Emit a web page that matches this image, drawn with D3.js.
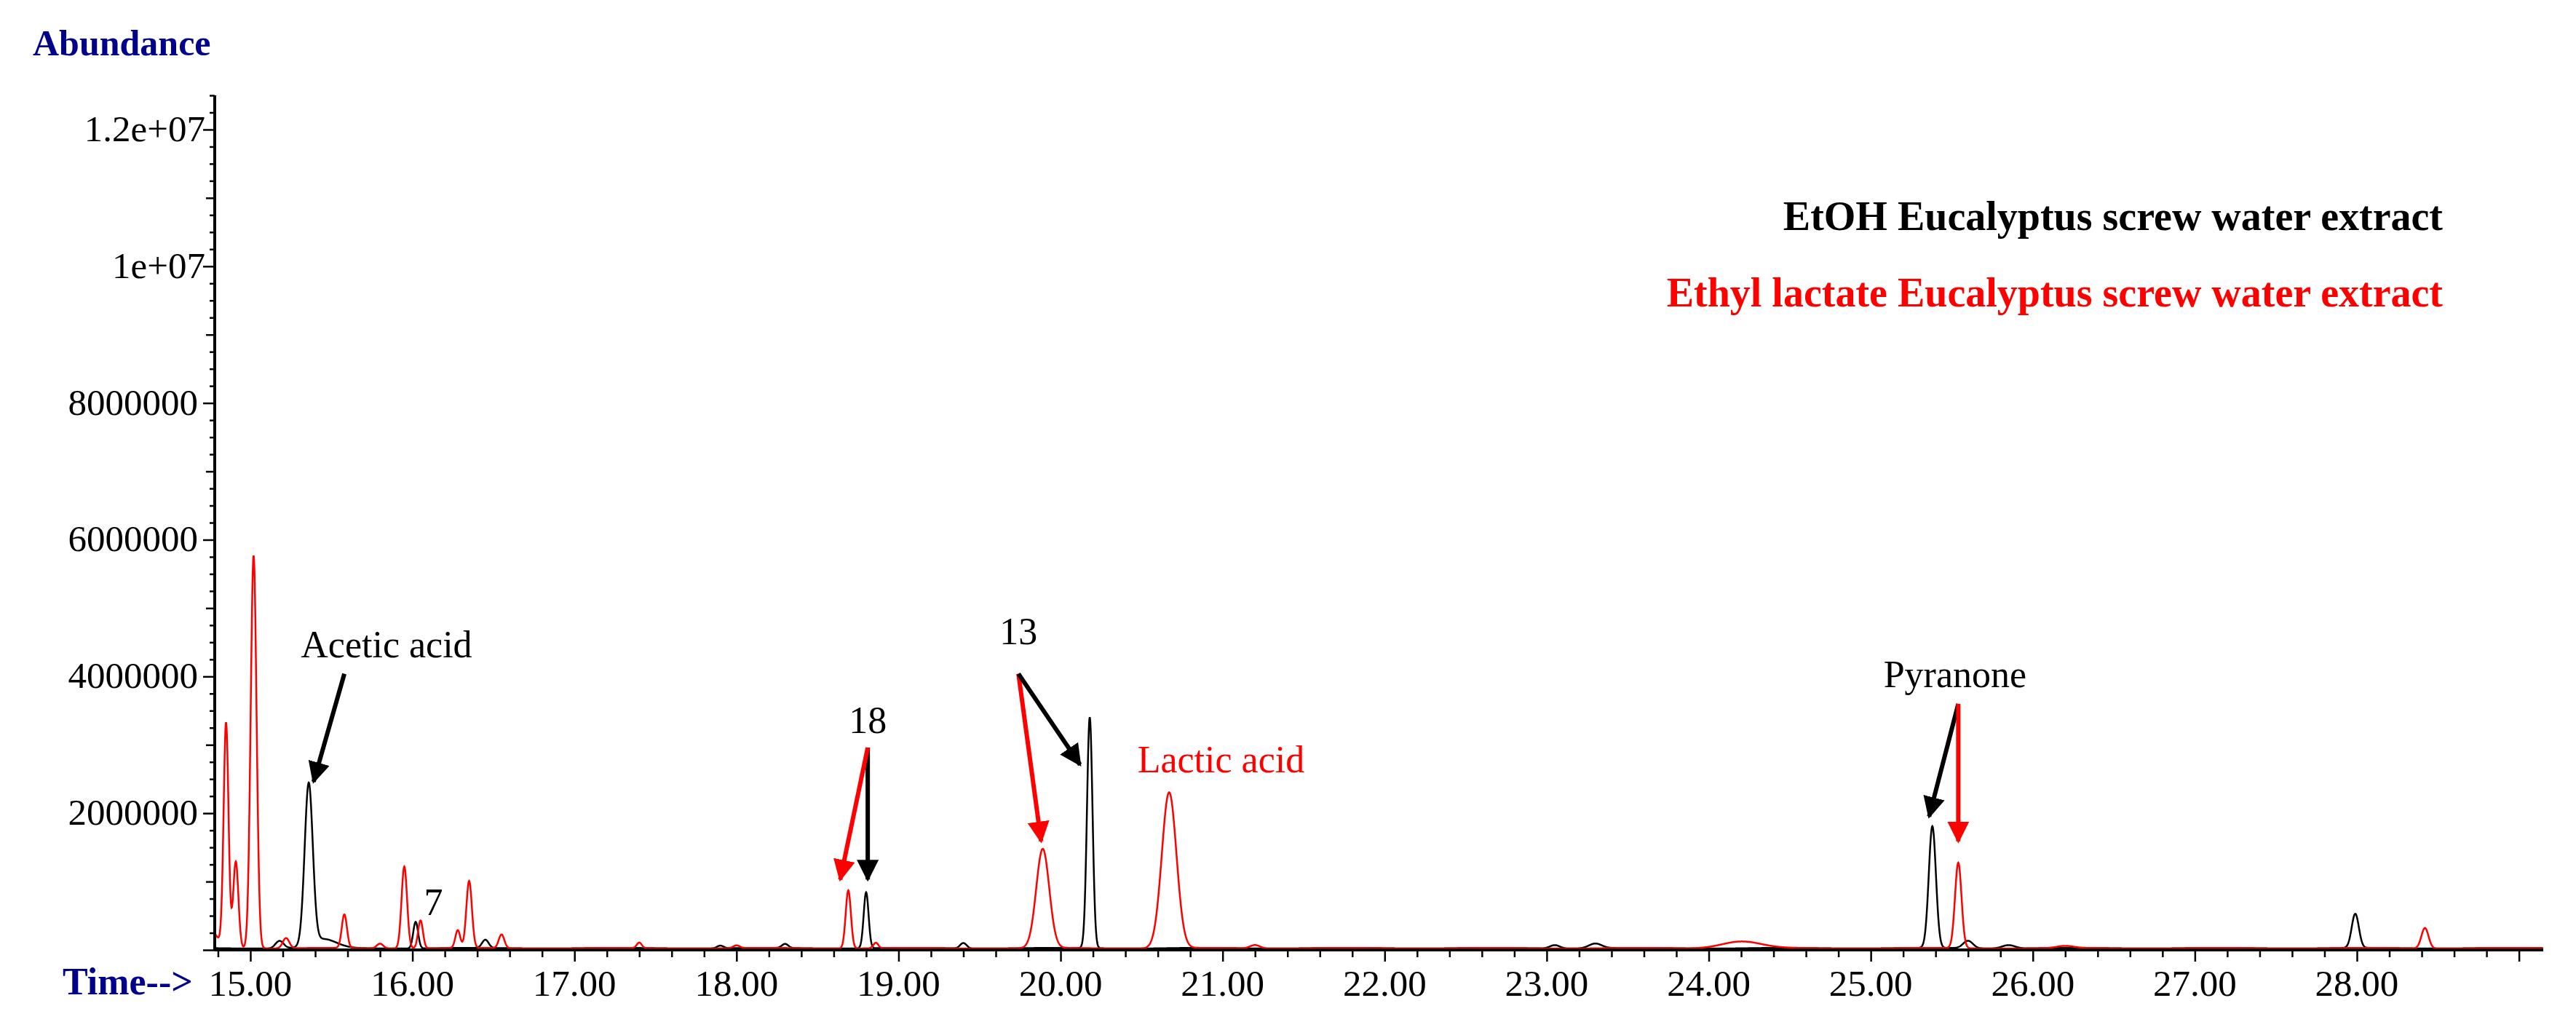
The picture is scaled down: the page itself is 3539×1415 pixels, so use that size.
<!DOCTYPE html>
<html><head><meta charset="utf-8">
<script src="https://cdn.jsdelivr.net/npm/d3@7"></script>
<style>body{margin:0;background:#fff}</style></head>
<body><svg id="c" width="3539" height="1415"></svg>
<script>
// Peaks: [retention time (min), abundance, width (min)]
const blackPeaks = [[15.18,110000,0.025],[15.36,2350000,0.025],[15.45,130000,0.08],[16.02,390000,0.015],[16.45,120000,0.02],[17.9,40000,0.02],[18.3,60000,0.02],[18.80,820000,0.015],[19.4,80000,0.02],[20.18,3380000,0.017],[23.05,50000,0.03],[23.3,70000,0.04],[25.38,1780000,0.022],[25.6,110000,0.03],[25.85,50000,0.04],[27.99,500000,0.022]];
const redPeaks = [[14.74,300000,0.05],[14.85,3280000,0.015],[14.91,1270000,0.016],[15.02,5750000,0.018],[15.22,150000,0.02],[15.58,490000,0.016],[15.80,70000,0.02],[15.95,1200000,0.017],[16.05,410000,0.015],[16.28,260000,0.015],[16.35,980000,0.017],[16.55,200000,0.017],[17.4,80000,0.015],[18.0,40000,0.02],[18.69,850000,0.016],[18.86,80000,0.015],[19.89,1450000,0.04],[20.67,2280000,0.045],[21.2,50000,0.03],[24.2,100000,0.12],[25.54,1250000,0.02],[26.2,30000,0.05],[28.42,300000,0.022]];
const yTicks = [2000000,4000000,6000000,8000000,10000000,12000000];
const yTickLabels = ["2000000","4000000","6000000","8000000","1e+07","1.2e+07"];
const xTicks = [15,16,17,18,19,20,21,22,23,24,25,26,27,28];
const series = [{name:"EtOH Eucalyptus screw water extract",color:"#000",peaks:blackPeaks},
                {name:"Ethyl lactate Eucalyptus screw water extract",color:"#f00",peaks:redPeaks}];
// annotations [text, t, v, color]
const labels = [["Acetic acid",15.84,4280000,"#000"],["7",16.13,510000,"#000"],["18",18.81,3170000,"#000"],["13",19.74,4470000,"#000"],["Lactic acid",20.99,2600000,"#f00"],["Pyranone",25.52,3840000,"#000"]];
const arrows = [[15.58,4040000,15.39,2460000,"#000"],[18.81,2960000,18.81,1030000,"#000"],[18.81,2960000,18.64,1030000,"#f00"],[19.74,4040000,19.88,1590000,"#f00"],[19.74,4040000,20.12,2710000,"#000"],[25.54,3600000,25.36,1950000,"#000"],[25.54,3600000,25.54,1590000,"#f00"]];

const svg = d3.select("#c");
const x = d3.scaleLinear().domain([14.78,29.15]).range([295,3494]);
const y = d3.scaleLinear().domain([0,12500000]).range([1305,131]);
const samples = d3.range(14.78,29.15,0.002);
function sig(peaks,t){let s=25000+5000*Math.sin(t*7);for(const [c,h,w] of peaks){const d=(t-c)/w; if(Math.abs(d)<8) s+=h*Math.exp(-0.5*d*d);}return s;}
const line = d3.line().x(d=>x(d[0])).y(d=>y(d[1]));
series.forEach(s=>{
  svg.append("path").datum(samples.map(t=>[t,sig(s.peaks,t)])).attr("d",line)
    .attr("fill","none").attr("stroke",s.color).attr("stroke-width",2.5);
});
const font="'Liberation Serif','Times New Roman',serif";
const ya = svg.append("g").attr("transform","translate(295,0)")
  .call(d3.axisLeft(y).tickValues(d3.range(0,12600000,250000)).tickFormat("").tickSize(8));
ya.selectAll(".tick line").attr("x2",d=>d%2000000===0?-16:(d%1000000===0?-12:-7)).attr("stroke-width",2.5);
ya.select(".domain").attr("stroke-width",4).attr("d","M0,1305V131");
yTicks.forEach((v,i)=>svg.append("text").attr("x",i>=4?282:272).attr("y",y(v)+16).attr("text-anchor","end")
  .attr("font-family",font).attr("font-size",51).text(yTickLabels[i]));
const xa = svg.append("g").attr("transform","translate(0,1305)")
  .call(d3.axisBottom(x).tickValues(d3.range(14.8,29.15,0.2)).tickFormat("").tickSize(10));
xa.selectAll(".tick line").attr("y2",d=>Math.abs(d-Math.round(d))<0.01?16:10).attr("stroke-width",2.5);
xa.select(".domain").attr("stroke-width",4).attr("d","M295,0H3494");
xTicks.forEach(t=>svg.append("text").attr("x",x(t)).attr("y",1368).attr("text-anchor","middle")
  .attr("font-family",font).attr("font-size",51).text(t.toFixed(2)));
svg.append("text").attr("x",45).attr("y",76).attr("font-family",font).attr("font-weight","bold")
  .attr("font-size",50).attr("fill","#00008b").text("Abundance");
svg.append("text").attr("x",86).attr("y",1366).attr("font-family",font).attr("font-weight","bold")
  .attr("font-size",52).attr("fill","#00008b").text("Time-->");
series.forEach((s,i)=>svg.append("text").attr("x",3356).attr("y",316+i*105).attr("text-anchor","end")
  .attr("font-family",font).attr("font-weight","bold").attr("font-size",56).attr("fill",s.color).text(s.name));
labels.forEach(l=>svg.append("text").attr("x",x(l[1])).attr("y",y(l[2])).attr("text-anchor","middle")
  .attr("font-family",font).attr("font-size",52).attr("fill",l[3]).text(l[0]));
const defs=svg.append("defs");
["#000","#f00"].forEach((c,i)=>defs.append("marker").attr("id","m"+i).attr("viewBox","0 0 10 10").attr("refX",9).attr("refY",5)
  .attr("markerWidth",5).attr("markerHeight",5).attr("orient","auto").attr("markerUnits","strokeWidth")
  .append("path").attr("d","M0,0L10,5L0,10z").attr("fill",c));
arrows.forEach(a=>svg.append("line").attr("x1",x(a[0])).attr("y1",y(a[1])).attr("x2",x(a[2])).attr("y2",y(a[3]))
  .attr("stroke",a[4]).attr("stroke-width",6).attr("marker-end","url(#m"+(a[4]==="#000"?0:1)+")"));
</script></body></html>
